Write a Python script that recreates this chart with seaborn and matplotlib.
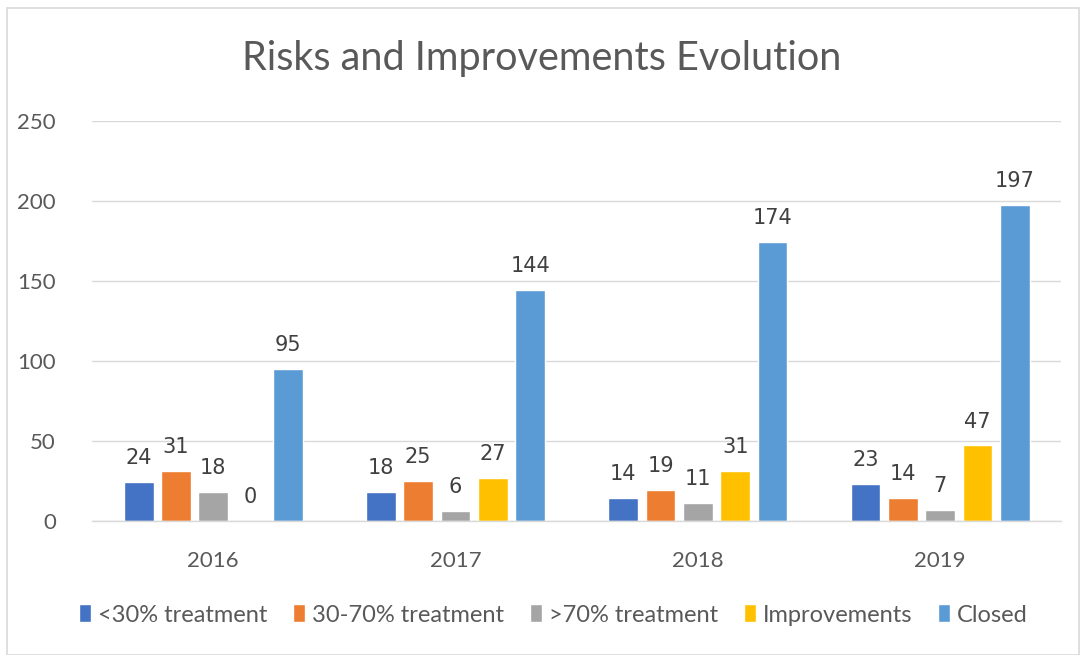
import matplotlib
matplotlib.use("Agg")
import matplotlib.pyplot as plt
import seaborn as sns
import pandas as pd
from matplotlib.patches import Rectangle

years = ["2016", "2017", "2018", "2019"]
series = ["<30% treatment", "30-70% treatment", ">70% treatment", "Improvements", "Closed"]
low_treatment = [24, 18, 14, 23]
mid_treatment = [31, 25, 19, 14]
high_treatment = [18, 6, 11, 7]
improvements = [0, 27, 31, 47]
closed = [95, 144, 174, 197]
colors = ["#4472C4", "#ED7D31", "#A5A5A5", "#FFC000", "#5B9BD5"]

values = [low_treatment, mid_treatment, high_treatment, improvements, closed]
rows = []
for s, vals in zip(series, values):
    for y, v in zip(years, vals):
        rows.append({"year": y, "series": s, "value": v})
df = pd.DataFrame(rows)

sns.set_theme(style="white")
plt.rcParams["font.family"] = ["Lato", "DejaVu Sans"]

fig = plt.figure(figsize=(10.83, 6.55), dpi=100)
ax = fig.add_axes([0.085, 0.205, 0.895, 0.611])

sns.barplot(data=df, x="year", y="value", hue="series", order=years,
            hue_order=series, palette=colors, width=0.77, gap=0.2,
            saturation=1, ax=ax, legend=True)

ax.set_ylim(0, 250)
ax.set_yticks([0, 50, 100, 150, 200, 250])
ax.yaxis.grid(True, color="#D9D9D9", linewidth=1)
ax.set_axisbelow(True)
for sp in ["top", "right", "left"]:
    ax.spines[sp].set_visible(False)
ax.spines["bottom"].set_color("#D9D9D9")
ax.spines["bottom"].set_linewidth(1)
ax.tick_params(axis="both", length=0, labelsize=16, colors="#595959")
ax.tick_params(axis="y", pad=26)
ax.tick_params(axis="x", pad=22)
ax.set_xlabel("")
ax.set_ylabel("")
ax.set_xlim(-0.5, 3.5)

for cont in ax.containers:
    ax.bar_label(cont, labels=[f"{int(b.get_height())}" for b in cont],
                 padding=10, fontsize=15, color="#404040", family="DejaVu Sans")

fig.text(0.5, 0.911, "Risks and Improvements Evolution", ha="center", va="center",
         fontsize=28.5, color="#595959")

handles, labels = ax.get_legend_handles_labels()
ax.get_legend().remove()
fig.legend(handles, labels, loc="center", bbox_to_anchor=(0.511, 0.061), ncol=5,
           frameon=False, fontsize=17, handlelength=0.5, handleheight=0.8,
           handletextpad=0.3, columnspacing=1.1, labelcolor="#595959")

fig.patches.append(Rectangle((0.0065, 0.0), 0.99, 0.988, transform=fig.transFigure,
                             fill=False, edgecolor="#D9D9D9", linewidth=1.2))

fig.savefig("out.png", dpi=100)
